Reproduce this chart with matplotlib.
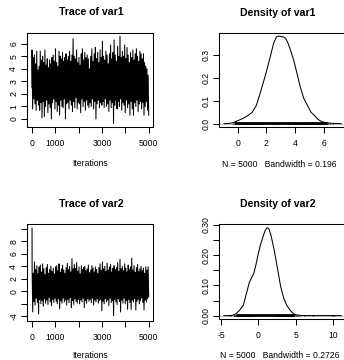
import numpy as np
import matplotlib
matplotlib.use("Agg")
import matplotlib.pyplot as plt

plt.rcParams['font.family'] = ['Liberation Sans', 'DejaVu Sans']

# ---------------- data ----------------
n_iter = 5000

trace1_start = [2.5]
trace1_high = [5.5, 4.9, 5.1, 4.4, 5.4, 3.9, 4.2, 5.4, 4.7, 5.0,
               4.5, 5.5, 4.3, 4.8, 4.1, 4.7, 4.4, 4.9, 5.1, 4.6,
               5.6, 4.5, 4.2, 5.4, 5.0, 4.8, 5.3, 4.6, 4.9, 5.2,
               4.7, 5.0, 5.4, 4.6, 5.1, 6.4, 5.0, 4.8, 5.5, 4.5,
               4.9, 4.3, 5.2, 5.6, 4.7, 5.3, 4.9, 5.1, 4.8, 4.0,
               5.0, 5.6, 4.6, 5.2, 5.7, 4.8, 5.3, 4.5, 5.5, 4.9,
               6.2, 5.0, 4.7, 5.4, 5.1, 4.4, 5.2, 5.9, 4.8, 5.3,
               6.3, 5.1, 4.6, 5.8, 5.0, 6.6, 4.9, 5.4, 5.0, 5.9,
               4.8, 5.7, 5.1, 4.5, 5.3, 4.9, 5.5, 4.7, 5.2, 5.6,
               5.0, 4.6, 5.4, 5.2, 4.8, 5.2, 4.5, 4.2, 4.0, 3.5]
trace1_low = [0.8, 1.6, 1.2, 0.7, 1.5, 1.1, 0.7, 1.3, 0.1, 1.4,
              0.2, 1.0, 1.5, 0.5, 1.2, 0.9, 0.0, 1.3, 1.6, 0.8,
              1.4, 0.6, 1.1, 0.3, 1.5, 1.0, 0.9, 1.6, 0.0, 1.2,
              1.3, 0.8, 1.5, 1.1, 0.6, 1.4, 0.9, 1.7, 0.8, 1.3,
              1.2, 0.5, 1.6, 1.0, 1.4, 0.7, 1.5, 1.1, 0.9, 1.3,
              1.0, 1.6, 0.8, 1.4, 0.0, 1.2, 1.5, 0.9, 1.3, 1.1,
              1.4, 0.9, 1.6, 1.0, 1.2, 0.6, 1.5, 0.9, 1.3, -0.35,
              1.1, 1.5, 0.8, 1.4, 1.0, 1.6, 0.7, 1.3, 1.1, 0.5,
              1.5, 0.9, 1.2, 0.3, 1.4, 0.8, 0.3, 1.3, 1.0, 1.5,
              0.6, 1.2, 1.4, 0.8, 1.3, 0.3, 1.0, 1.4, 0.7, 0.3]

trace2_start = [10.1, 9.8, 7.3, 6.1, 5.6]
trace2_high = [3.4, 2.9, 4.7, 3.5, 4.1, 2.8, 3.9, 4.2, 3.1, 4.4,
               3.6, 2.7, 3.8, 4.3, 2.9, 3.5, 4.0, 3.2, 3.7, 2.8,
               3.9, 4.1, 3.3, 4.4, 3.0, 3.6, 4.2, 3.4, 2.9, 3.8,
               4.5, 3.5, 4.0, 3.1, 5.2, 3.6, 4.3, 3.7, 4.6, 3.2,
               3.9, 2.8, 4.1, 3.5, 3.8, 4.0, 3.3, 3.6, 4.2, 3.0,
               3.4, 4.1, 3.7, 3.1, 3.9, 3.5, 2.9, 3.8, 4.4, 3.3,
               4.7, 3.6, 4.0, 3.2, 4.5, 3.4, 3.9, 4.3, 3.1, 3.7,
               4.1, 3.5, 3.8, 4.6, 3.2, 5.1, 3.6, 4.0, 3.3, 4.4,
               3.7, 3.1, 4.2, 3.5, 3.9, 5.3, 3.4, 4.1, 3.0, 3.8,
               4.3, 3.2, 3.6, 4.0, 3.3, 3.7, 2.9, 3.9, 3.4, 3.9]
trace2_low = [-3.3, -1.6, -2.2, -1.1, -1.8, -3.6, -1.3, -2.0, -1.5, -2.4,
              -1.2, -1.9, -1.4, -2.1, -1.0, -1.7, -2.3, -1.3, -1.8, -1.1,
              -1.6, -2.0, -1.2, -2.8, -1.5, -1.9, -1.1, -1.7, -1.4, -2.2,
              -1.3, -1.8, -1.0, -2.6, -1.5, -2.1, -1.2, -1.6, -1.9, -1.3,
              -2.0, -1.4, -1.7, -1.1, -2.6, -1.5, -1.9, -1.2, -1.6, -1.3,
              -1.8, -1.1, -2.2, -1.4, -1.7, -1.2, -1.9, -1.5, -1.3, -3.1,
              -1.6, -2.0, -1.2, -1.7, -1.4, -2.3, -1.1, -1.8, -1.5, -3.9,
              -1.3, -1.7, -2.1, -1.2, -1.6, -3.3, -1.4, -1.9, -1.1, -2.0,
              -1.5, -2.9, -1.3, -1.8, -2.9, -1.4, -1.7, -1.2, -3.0, -1.6,
              -1.3, -2.0, -1.5, -1.1, -1.8, -3.0, -1.4, -1.7, -1.2, -0.9]

dens1_x = [-0.95, -0.6, -0.3, 0.0, 0.4, 0.7, 1.0, 1.3, 1.6, 1.9, 2.1, 2.3, 2.5, 2.7,
           2.85, 3.0, 3.2, 3.35, 3.5, 3.7, 3.9, 4.1, 4.35, 4.6, 4.85, 5.1, 5.35,
           5.6, 5.85, 6.1, 6.5, 7.2]
dens1_y = [0.000, 0.001, 0.005, 0.013, 0.024, 0.035, 0.049, 0.08, 0.14, 0.205, 0.25,
           0.30, 0.35, 0.378, 0.381, 0.379, 0.377, 0.37, 0.35, 0.315, 0.275, 0.225,
           0.16, 0.11, 0.08, 0.05, 0.035, 0.018, 0.009, 0.005, 0.002, 0.000]
dens2_x = [-4.6, -3.5, -3.0, -2.5, -2.0, -1.6, -1.2, -0.9, -0.6, -0.3, 0.0, 0.3, 0.65,
           0.9, 1.1, 1.25, 1.45, 1.7, 2.1, 2.5, 3.0, 3.4, 3.8, 4.2, 4.7, 5.2, 6.0,
           8.0, 10.0, 11.1]
dens2_y = [0.000, 0.001, 0.006, 0.018, 0.035, 0.072, 0.11, 0.125, 0.14, 0.17, 0.205,
           0.235, 0.262, 0.28, 0.289, 0.29, 0.285, 0.265, 0.22, 0.165, 0.095, 0.058,
           0.035, 0.02, 0.006, 0.002, 0.0005, 0.0003, 0.0005, 0.000]

rug1_band = [-0.25, 6.2]
rug2_band = [-3.0, 4.9]

n_obs = 5000
bandwidth1 = "0.196"
bandwidth2 = "0.2726"

# ---------------- figure ----------------
W, H = 344, 360
fig = plt.figure(figsize=(W / 100, H / 100), dpi=100)

LW = 0.75
TICK_LEN = 4.0
FS = 6.2
TFS = 7.6


def rect(l, r, t, b):
    return [l / W, 1 - b / H, (r - l) / W, (b - t) / H]


def style(ax):
    for s in ax.spines.values():
        s.set_linewidth(LW)
    ax.tick_params(length=TICK_LEN, width=LW, labelsize=FS, direction='out')
    ax.tick_params(axis='x', pad=4.5)
    ax.tick_params(axis='y', pad=2.5)


def series(start, high, low):
    vals = list(start)
    for h, l in zip(high, low):
        vals += [h, l]
    iters = np.concatenate([np.arange(1, len(start) + 1),
                            np.linspace(len(start) + 1, n_iter, 2 * len(high))])
    return iters, np.array(vals)


def ftext(x, y, s, **kw):
    fig.text(x / W, 1 - y / H, s, ha='center', va='center', **kw)


def rug(ax, obs, band, height):
    # observation ticks (coda show.obs): short vertical strokes above zero
    ax.hlines(height * 0.5, band[0], band[1], color='black', lw=2.0, zorder=3)
    ax.vlines(obs, -height * 0.3, height * 1.3, color='black', lw=1.0, zorder=3)


# Trace of var1
ax1 = fig.add_axes(rect(27.3, 152.7, 32.7, 127.3))
it1, v1 = series(trace1_start, trace1_high, trace1_low)
ax1.plot(it1, v1, color='black', lw=LW)
ax1.set_xlim(-201, 5171)
ax1.set_ylim(-0.661, 6.876)
ax1.set_xticks([0, 1000, 2000, 3000, 4000, 5000], ['0', '1000', '', '3000', '', '5000'])
ax1.set_yticks(range(0, 7), [str(v) for v in range(0, 7)], rotation=90, va='center')
style(ax1)

# Density of var1
ax2 = fig.add_axes(rect(219.3, 345.5, 32.7, 127.0))
ax2.axhline(0, color='#BEBEBE', lw=0.6)
ax2.plot(dens1_x, dens1_y, color='black', lw=LW)
rug(ax2, v1, rug1_band, max(dens1_y) / 100)
ax2.set_xlim(-1.28, 7.50)
ax2.set_ylim(-0.0143, 0.3957)
ax2.set_xticks([0, 2, 4, 6], ['0', '2', '4', '6'])
ax2.set_yticks([0.0, 0.1, 0.2, 0.3], ['0.0', '0.1', '0.2', '0.3'], rotation=90, va='center')
style(ax2)

# Trace of var2
ax3 = fig.add_axes(rect(27.3, 152.7, 223.5, 320.7))
it2, v2 = series(trace2_start, trace2_high, trace2_low)
ax3.plot(it2, v2, color='black', lw=LW)
ax3.set_xlim(-201, 5171)
ax3.set_ylim(-4.70, 10.85)
ax3.set_xticks([0, 1000, 2000, 3000, 4000, 5000], ['0', '1000', '', '3000', '', '5000'])
ax3.set_yticks([-4, -2, 0, 2, 4, 6, 8, 10], ['-4', '', '0', '2', '4', '6', '8', ''],
               rotation=90, va='center')
style(ax3)

# Density of var2
ax4 = fig.add_axes(rect(219.3, 345.5, 224.3, 319.2))
ax4.axhline(0, color='#BEBEBE', lw=0.6)
ax4.plot(dens2_x, dens2_y, color='black', lw=LW)
rug(ax4, v2, rug2_band, max(dens2_y) / 100)
ax4.set_xlim(-5.22, 11.67)
ax4.set_ylim(-0.0116, 0.3017)
ax4.set_xticks([-5, 0, 5, 10], ['-5', '0', '5', '10'])
ax4.set_yticks([0.0, 0.05, 0.10, 0.15, 0.20, 0.25, 0.30],
               ['0.00', '', '0.10', '', '0.20', '', '0.30'], rotation=90, va='center')
style(ax4)

# titles and axis labels
ftext(91, 12, 'Trace of var1', fontsize=TFS, fontweight='bold')
ftext(278, 12.5, 'Density of var1', fontsize=TFS, fontweight='bold')
ftext(91, 204, 'Trace of var2', fontsize=TFS, fontweight='bold')
ftext(277.5, 204, 'Density of var2', fontsize=TFS, fontweight='bold')
ftext(90.3, 164, 'Iterations', fontsize=FS)
ftext(90.3, 355.7, 'Iterations', fontsize=FS)
ftext(279.5, 164.7, f'N = {n_obs}   Bandwidth = {bandwidth1}', fontsize=FS)
ftext(279.5, 355.7, f'N = {n_obs}   Bandwidth = {bandwidth2}', fontsize=FS)

fig.savefig('out.png', dpi=100)
